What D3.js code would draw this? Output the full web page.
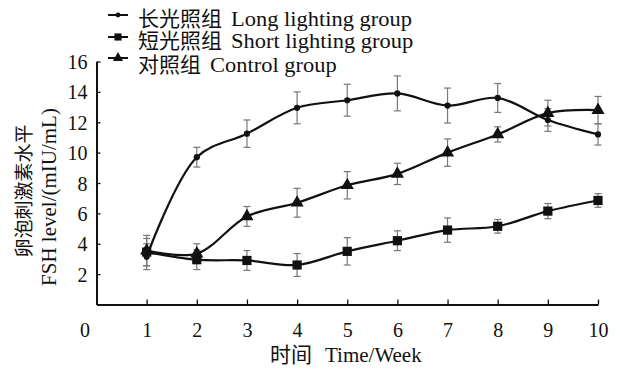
<!DOCTYPE html>
<html>
<head>
<meta charset="utf-8">
<script src="https://cdn.jsdelivr.net/npm/d3@7"></script>
<style>
  body { margin: 0; background: #fff; }
  text { font-family: "Liberation Serif", "Noto Sans CJK SC", serif; fill: #111; }
</style>
</head>
<body>
<svg id="chart" width="620" height="371"></svg>
<script>
"use strict";

const weeks = [1, 2, 3, 4, 5, 6, 7, 8, 9, 10];
const xTicks = [0, 1, 2, 3, 4, 5, 6, 7, 8, 9, 10];
const yTicks = [2, 4, 6, 8, 10, 12, 14, 16];

const longMean = [3.15, 9.7, 11.25, 12.95, 13.45, 13.9, 13.1, 13.6, 12.15, 11.2];
const longErr = [0.85, 0.65, 0.9, 1.05, 1.05, 1.15, 1.15, 0.95, 0.75, 0.7];
const shortMean = [3.45, 2.95, 2.9, 2.6, 3.5, 4.2, 4.9, 5.15, 6.15, 6.85];
const shortErr = [0.9, 0.65, 0.65, 0.75, 0.9, 0.65, 0.8, 0.45, 0.5, 0.45];
const ctrlMean = [3.55, 3.35, 5.8, 6.7, 7.85, 8.6, 10.0, 11.2, 12.6, 12.8];
const ctrlErr = [1.0, 0.65, 0.65, 0.95, 0.9, 0.7, 0.9, 0.5, 0.85, 0.9];

const series = [
    {zh: "长光照组", en: "Long lighting group", mean: longMean, err: longErr, shape: "circle"},
    {zh: "短光照组", en: "Short lighting group", mean: shortMean, err: shortErr, shape: "square"},
    {zh: "对照组", en: "Control group", mean: ctrlMean, err: ctrlErr, shape: "triangle"}
];

const svg = d3.select("#chart"),
    x = d3.scaleLinear().domain([0, 10]).range([96.5, 598]),
    y = d3.scaleLinear().domain([0, 16]).range([304.5, 61.5]);

const symType = {circle: d3.symbolCircle, square: d3.symbolSquare, triangle: d3.symbolTriangle};
const symSize = {circle: 30, square: 85, triangle: 75};

// axes
const xAxis = svg.append("g")
    .attr("transform", `translate(0,${y(0)})`)
    .call(d3.axisBottom(x).tickValues(xTicks).tickSize(-5).tickSizeOuter(0).tickPadding(16));
const yAxis = svg.append("g")
    .attr("transform", `translate(${x(0)},0)`)
    .call(d3.axisLeft(y).tickValues(yTicks).tickSize(-4).tickSizeOuter(0).tickPadding(9));

[xAxis, yAxis].forEach(a => {
    a.select(".domain").attr("stroke", "#111").attr("stroke-width", 2);
    a.selectAll(".tick line").attr("stroke", "#111").attr("stroke-width", 1.3);
    a.selectAll("text").attr("font-size", 20).attr("font-family", "Liberation Serif").attr("fill", "#111");
});
xAxis.selectAll(".tick").filter(d => d === 0).select("line").remove();
xAxis.selectAll(".tick").filter(d => d === 0).select("text").attr("dx", -12);
xAxis.selectAll(".tick text").attr("dy", "0.8em");
yAxis.selectAll(".tick text").attr("dy", "0.35em");

// error bars
series.forEach(s => {
    const g = svg.append("g");
    weeks.forEach((w, i) => {
        const cx = x(w), y1 = y(s.mean[i] + s.err[i]), y2 = y(s.mean[i] - s.err[i]);
        g.append("line").attr("x1", cx).attr("x2", cx).attr("y1", y1).attr("y2", y2)
            .attr("stroke", "#777").attr("stroke-width", 1.2);
        [y1, y2].forEach(yy => g.append("line")
            .attr("x1", cx - 3.5).attr("x2", cx + 3.5).attr("y1", yy).attr("y2", yy)
            .attr("stroke", "#777").attr("stroke-width", 1.2));
    });
});

// lines and markers
const line = d3.line().curve(d3.curveCatmullRom.alpha(0.5))
    .x((d, i) => x(weeks[i])).y(d => y(d));

series.forEach(s => {
    svg.append("path").datum(s.mean).attr("d", line)
        .attr("fill", "none").attr("stroke", "#111").attr("stroke-width", 2.2);
    svg.selectAll(null).data(s.mean).enter().append("path")
        .attr("d", d3.symbol().type(symType[s.shape]).size(symSize[s.shape]))
        .attr("transform", (d, i) => `translate(${x(weeks[i])},${y(d)})`)
        .attr("fill", "#111");
});

// legend: Chinese part, then the wider English part of the source
const legendBase = [25.5, 47.5, 71.5];
const legendMark = [15, 37, 58];
series.forEach((s, i) => {
    svg.append("line").attr("x1", 108).attr("x2", 128)
        .attr("y1", legendMark[i]).attr("y2", legendMark[i])
        .attr("stroke", "#111").attr("stroke-width", 2);
    svg.append("path")
        .attr("d", d3.symbol().type(symType[s.shape]).size(symSize[s.shape] * 0.6))
        .attr("transform", `translate(118,${legendMark[i]})`).attr("fill", "#111");
    const zh = svg.append("text").attr("x", 138).attr("y", legendBase[i])
        .attr("font-size", 21).attr("font-family", "Noto Sans CJK SC").text(s.zh);
    const ex = 138 + zh.node().getComputedTextLength() + 9;
    svg.append("text").attr("transform", `translate(${ex},${legendBase[i]}) scale(1.07,1)`)
        .attr("font-size", 21).text(s.en);
});

// axis titles
svg.append("text").attr("x", 270).attr("y", 362)
    .attr("font-size", 21).attr("font-family", "Noto Sans CJK SC").text("时间");
svg.append("text").attr("x", 325).attr("y", 362)
    .attr("font-size", 21).text("Time/Week");

const yt = svg.append("g").attr("transform", "rotate(-90)");
yt.append("text").attr("x", -191).attr("y", 31).attr("text-anchor", "middle")
    .attr("font-size", 19).text("卵泡刺激素水平");
yt.append("text").attr("x", -197).attr("y", 56).attr("text-anchor", "middle")
    .attr("font-size", 21).text("FSH level/(mIU/mL)");
</script>
</body>
</html>
